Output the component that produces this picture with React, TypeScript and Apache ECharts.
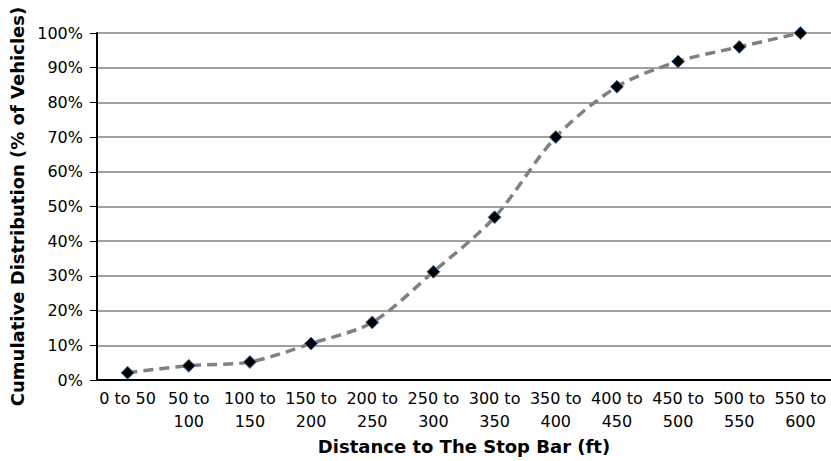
import React, { useEffect, useRef } from "react";
import * as echarts from "echarts";

const categories = [
  "0 to 50",
  "50 to 100",
  "100 to 150",
  "150 to 200",
  "200 to 250",
  "250 to 300",
  "300 to 350",
  "350 to 400",
  "400 to 450",
  "450 to 500",
  "500 to 550",
  "550 to 600",
];

const cumulativePercent = [2.1, 4.1, 5.2, 10.5, 16.6, 31.2, 46.9, 70.0, 84.5, 91.8, 96.0, 100.0];

const yTicks = { min: 0, max: 100, interval: 10 };

const xAxisTitle = "Distance to The Stop Bar (ft)";
const yAxisTitle = "Cumulative Distribution (% of Vehicles)";

const FONT = "DejaVu Sans";

export default function App() {
  const ref = useRef<HTMLDivElement>(null);

  useEffect(() => {
    if (!ref.current) return;
    const chart = echarts.init(ref.current, undefined, { renderer: "svg" });
    chart.setOption({
      animation: false,
      backgroundColor: "#ffffff",
      grid: { left: 97, right: 0, top: 33, bottom: 81, containLabel: false },
      xAxis: {
        type: "category",
        data: categories,
        boundaryGap: true,
        name: xAxisTitle,
        nameLocation: "middle",
        nameGap: 56,
        nameTextStyle: { fontFamily: FONT, fontSize: 18, fontWeight: "bold", color: "#000" },
        axisLine: { show: true, lineStyle: { color: "#000", width: 2 } },
        axisTick: { show: false },
        axisLabel: {
          interval: 0,
          margin: 7,
          fontFamily: FONT,
          fontSize: 16,
          lineHeight: 23,
          color: "#000",
          formatter: (v: string) => v.replace(/ to (\d{3})/, " to\n$1"),
        },
        splitLine: { show: false },
      },
      yAxis: {
        type: "value",
        min: yTicks.min,
        max: yTicks.max,
        interval: yTicks.interval,
        name: yAxisTitle,
        nameLocation: "middle",
        nameGap: 70,
        nameTextStyle: { fontFamily: FONT, fontSize: 18, fontWeight: "bold", color: "#000" },
        axisLine: { show: true, lineStyle: { color: "#000", width: 2 } },
        axisTick: { show: true, length: 7, lineStyle: { color: "#000", width: 1 } },
        axisLabel: {
          margin: 14,
          fontFamily: FONT,
          fontSize: 16,
          color: "#000",
          formatter: "{value}%",
        },
        splitLine: { show: true, lineStyle: { color: "#808080", width: 1.5 } },
      },
      series: [
        {
          type: "line",
          data: cumulativePercent,
          smooth: 0.3,
          symbol: "diamond",
          symbolSize: 13,
          itemStyle: { color: "#000000", borderColor: "#4f81bd", borderWidth: 1 },
          lineStyle: { color: "#808080", width: 3.5, type: [10, 6] },
          z: 3,
        },
      ],
    });
    return () => chart.dispose();
  }, []);

  return (
    <div
      ref={ref}
      style={{ position: "fixed", left: 0, top: 0, width: 831, height: 461, background: "#fff" }}
    />
  );
}
